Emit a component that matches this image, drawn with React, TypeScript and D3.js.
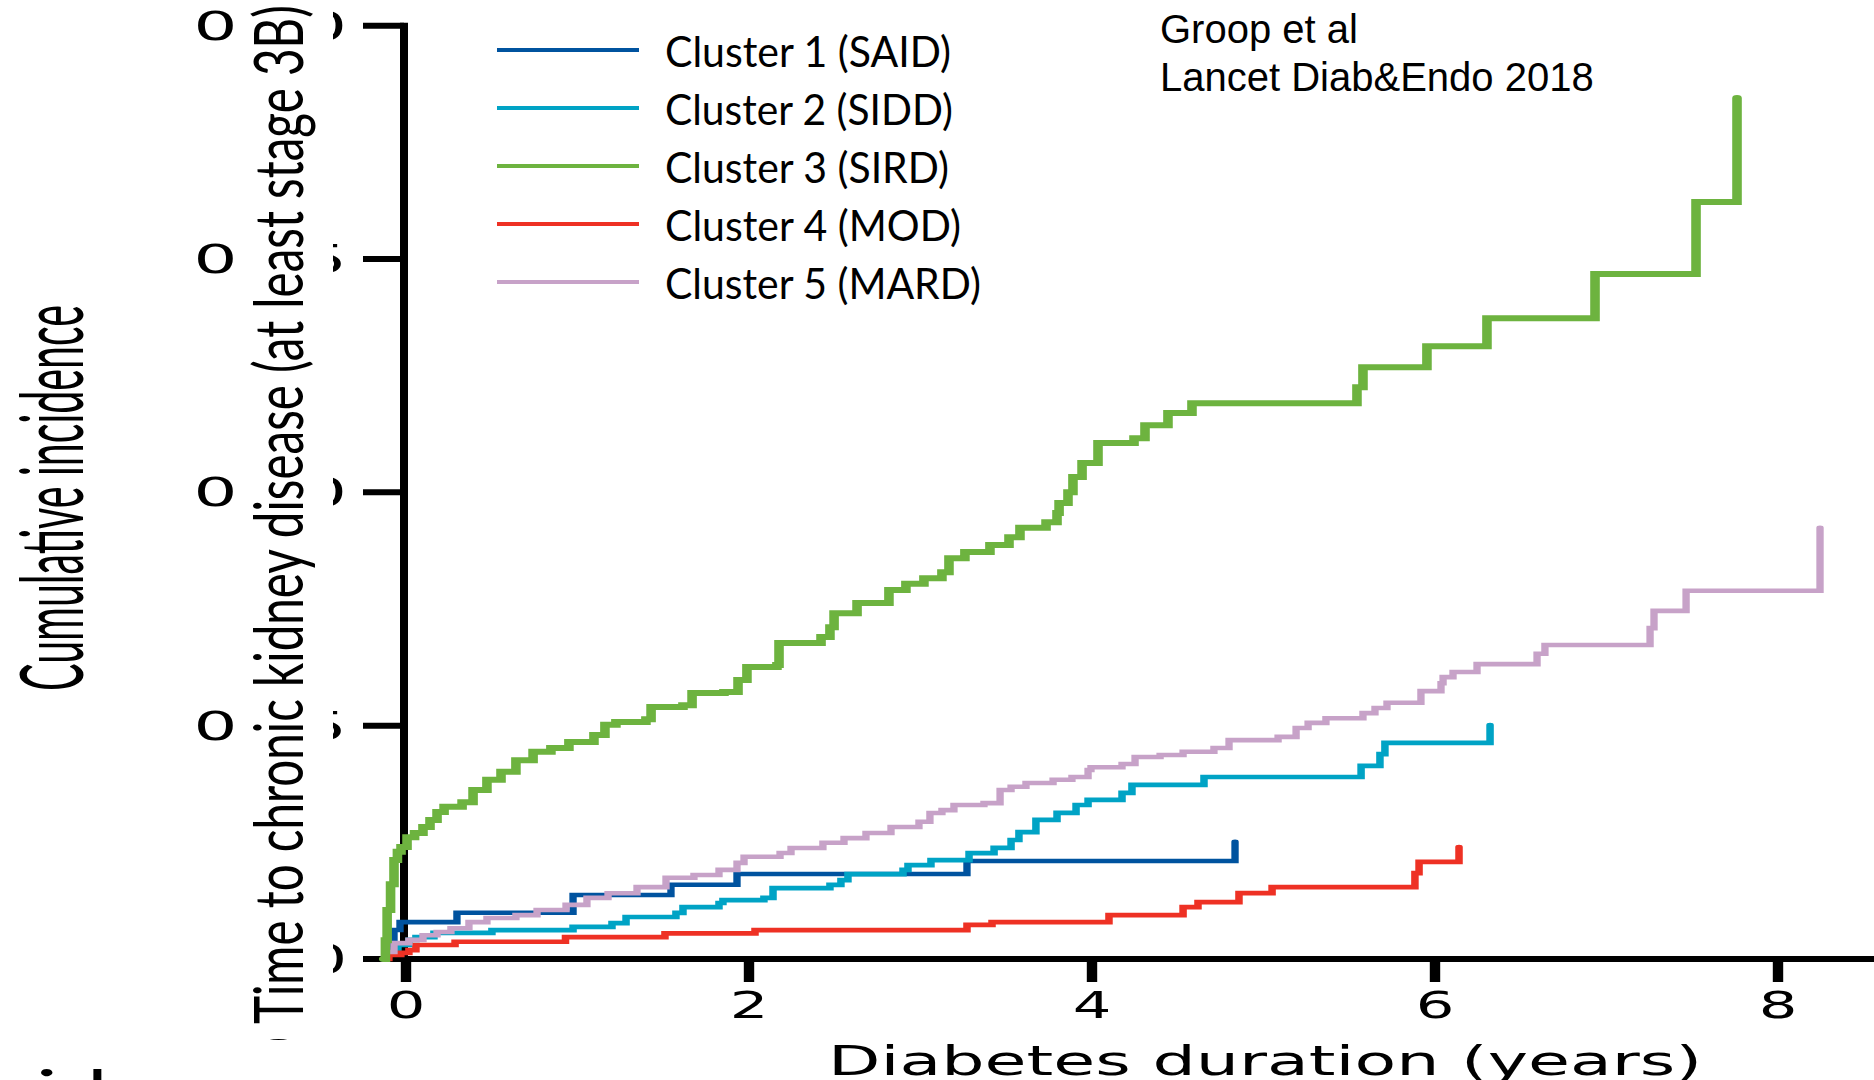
import React from "react";
import * as d3 from "d3";

// ---- data: cumulative incidence of CKD (stage 3B or worse) by diabetes duration ----
const clusterNames = [
  "Cluster 1 (SAID)",
  "Cluster 2 (SIDD)",
  "Cluster 3 (SIRD)",
  "Cluster 4 (MOD)",
  "Cluster 5 (MARD)",
];
const clusterColors = ["#00539F", "#00A3C5", "#6DB33F", "#EE3124", "#C7A2C8"];

// step-change times (years) and cumulative incidence after each step
const saidTime = [-0.13, -0.11, -0.07, -0.035, 0.297, 0.974, 1.545, 1.93, 3.271, 4.834];
const saidCum = [0, 0.003, 0.0062, 0.0079, 0.0099, 0.0137, 0.0159, 0.0182, 0.021, 0.0251];

const siddTime = [
  -0.13, -0.12, -0.047, 0.017, 0.058, 0.163, 0.501, 0.974, 1.201, 1.283, 1.574, 1.615, 1.825,
  1.848, 2.087, 2.14, 2.472, 2.536, 2.577, 2.898, 2.927, 3.061, 3.283, 3.429, 3.528, 3.574,
  3.673, 3.796, 3.907, 3.977, 4.175, 4.233, 4.653, 5.569, 5.679, 5.708, 6.321,
];
const siddCum = [
  0, 0.0015, 0.003, 0.0041, 0.0047, 0.0056, 0.0062, 0.0069, 0.0077, 0.009, 0.0099, 0.0111,
  0.012, 0.0126, 0.0131, 0.0152, 0.0159, 0.0169, 0.0182, 0.0191, 0.0201, 0.0212, 0.0227,
  0.0238, 0.0255, 0.0272, 0.0298, 0.0313, 0.033, 0.0341, 0.0356, 0.0373, 0.039, 0.0414,
  0.0439, 0.0463, 0.0501,
];

const sirdTime = [
  -0.13, -0.12, -0.11, -0.09, -0.07, -0.05, -0.029, 0.006, 0.05, 0.099, 0.14, 0.181, 0.222,
  0.327, 0.391, 0.472, 0.554, 0.641, 0.741, 0.845, 0.95, 1.096, 1.16, 1.224, 1.399, 1.429,
  1.615, 1.668, 1.854, 1.936, 1.988, 2.163, 2.175, 2.42, 2.472, 2.496, 2.63, 2.816, 2.915,
  3.02, 3.125, 3.166, 3.259, 3.405, 3.516, 3.58, 3.732, 3.796, 3.808, 3.86, 3.889, 3.942,
  4.035, 4.245, 4.309, 4.443, 4.583, 5.545, 5.58, 5.953, 6.303, 6.933, 7.522, 7.761,
];
const sirdCum = [
  0, 0.004, 0.0105, 0.016, 0.0212, 0.023, 0.024, 0.0261, 0.027, 0.0283, 0.0298, 0.0315,
  0.0326, 0.0336, 0.0362, 0.0384, 0.0401, 0.0426, 0.0444, 0.0452, 0.0465, 0.048, 0.0502,
  0.0508, 0.0514, 0.054, 0.0544, 0.057, 0.0572, 0.0598, 0.0626, 0.063, 0.0677, 0.069,
  0.0711, 0.0741, 0.0763, 0.0791, 0.0804, 0.0816, 0.0829, 0.0859, 0.0872, 0.0887, 0.0904,
  0.0924, 0.0936, 0.0956, 0.0977, 0.1, 0.1033, 0.1063, 0.1106, 0.1116, 0.1144, 0.117,
  0.1191, 0.1225, 0.1268, 0.1313, 0.1373, 0.1468, 0.1622, 0.1845,
];

const modTime = [
  -0.13, -0.1, -0.03, 0.017, 0.058, 0.286, 0.93, 1.51, 2.035, 3.271, 3.417, 4.099, 4.531,
  4.618, 4.857, 5.05, 5.883, 5.907, 6.14,
];
const modCum = [
  0, 0.0009, 0.0013, 0.0019, 0.003, 0.0037, 0.0047, 0.0055, 0.0062, 0.0073, 0.0079, 0.0094,
  0.0111, 0.0122, 0.0141, 0.0154, 0.0184, 0.0208, 0.024,
];

const mardTime = [
  -0.13, -0.122, -0.07, 0.017, 0.099, 0.181, 0.262, 0.367, 0.472, 0.641, 0.764, 0.933, 1.055,
  1.178, 1.347, 1.516, 1.679, 1.825, 1.93, 1.971, 2.181, 2.245, 2.431, 2.554, 2.682, 2.828,
  2.991, 3.055, 3.125, 3.195, 3.37, 3.464, 3.528, 3.615, 3.773, 3.883, 3.977, 3.994, 4.175,
  4.251, 4.397, 4.531, 4.711, 4.799, 5.085, 5.19, 5.26, 5.364, 5.58, 5.65, 5.72, 5.918,
  6.035, 6.047, 6.105, 6.245, 6.595, 6.641, 7.254, 7.277, 7.464, 8.245,
];
const mardCum = [
  0, 0.0015, 0.0034, 0.0041, 0.0051, 0.0058, 0.0066, 0.0079, 0.0088, 0.0094, 0.0105, 0.0116,
  0.0131, 0.0141, 0.0154, 0.0174, 0.018, 0.0191, 0.0206, 0.0219, 0.0227, 0.0238, 0.0249,
  0.0259, 0.027, 0.0283, 0.0294, 0.0313, 0.0319, 0.033, 0.0334, 0.0362, 0.0369, 0.0377,
  0.0384, 0.039, 0.0405, 0.0411, 0.0418, 0.0433, 0.0437, 0.0444, 0.0452, 0.0469, 0.0476,
  0.0495, 0.0506, 0.0516, 0.0527, 0.0538, 0.0549, 0.0574, 0.0591, 0.0604, 0.0615, 0.0632,
  0.0654, 0.0673, 0.0709, 0.0746, 0.0789, 0.0924,
];

const xTicks = [0, 2, 4, 6, 8];
const yTicks = [0, 0.05, 0.1, 0.15, 0.2];
const yTickLabels = ["0", "0·05", "0·10", "0·15", "0·20"];

// ---- layout ----
const W = 1874;
const H = 1080;
const SX = 1.6; // horizontal stretch of the plot artwork
const X0 = 406; // screen x of year 0
const PX_PER_YEAR = 171.5;

const xScale = d3.scaleLinear().domain([0, 8]).range([0, (8 * PX_PER_YEAR) / SX]);
const yScale = d3.scaleLinear().domain([0, 0.2]).range([959, 25.7]);
const gx = (sx: number) => (sx - X0) / SX; // screen x -> stretched-group x
const screenX = (t: number) => X0 + SX * xScale(t);

const series = [
  { time: saidTime, cum: saidCum, width: 4.6 },
  { time: siddTime, cum: siddCum, width: 4.7 },
  { time: sirdTime, cum: sirdCum, width: 6 },
  { time: modTime, cum: modCum, width: 4.7 },
  { time: mardTime, cum: mardCum, width: 4.6 },
].map((s, i) => ({
  ...s,
  name: clusterNames[i],
  color: clusterColors[i],
  points: d3.zip(s.time, s.cum) as [number, number][],
}));

const drawOrder = [0, 1, 3, 4, 2];

const stepLine = d3
  .line<[number, number]>()
  .x((d) => xScale(d[0]))
  .y((d) => yScale(d[1]))
  .curve(d3.curveStepAfter);

const legendTextLength = [286, 288, 284, 296, 316];

export default function App() {
  const axisTop = yScale(0.2) - 3;
  const axisY = yScale(0);
  return (
    <svg
      width={W}
      height={H}
      viewBox={`0 0 ${W} ${H}`}
      style={{ position: "fixed", left: 0, top: 0, background: "#fff" }}
    >
      <rect x={0} y={0} width={W} height={H} fill="#fff" />

      {/* y tick labels */}
      {yTicks.map((v, i) => (
        <text
          key={"yl" + i}
          transform={`translate(347, ${yScale(v) + 14}) scale(${SX},1)`}
          textAnchor="end"
          fontFamily="DejaVu Sans"
          fontSize={39}
          fill="#000"
          textLength={yTickLabels[i].length > 1 ? 96 : 25}
          lengthAdjust="spacingAndGlyphs"
        >
          {yTickLabels[i]}
        </text>
      ))}

      {/* stretched plot artwork */}
      <g transform={`translate(${X0},0) scale(${SX},1)`}>
        {/* x axis */}
        <line x1={gx(363)} x2={gx(W) + 2} y1={axisY} y2={axisY} stroke="#000" strokeWidth={6} />
        {xTicks.map((t) => (
          <line
            key={"xt" + t}
            x1={xScale(t)}
            x2={xScale(t)}
            y1={axisY}
            y2={axisY + 23}
            stroke="#000"
            strokeWidth={6.5}
          />
        ))}
        {/* y axis */}
        <line x1={gx(404)} x2={gx(404)} y1={axisTop} y2={axisY + 3} stroke="#000" strokeWidth={5} />
        {yTicks.map((v) => (
          <line
            key={"yt" + v}
            x1={gx(363)}
            x2={gx(404)}
            y1={yScale(v)}
            y2={yScale(v)}
            stroke="#000"
            strokeWidth={6}
          />
        ))}
        {/* cumulative incidence curves */}
        {drawOrder.map((i) => {
          const s = series[i];
          return (
            <path
              key={s.name}
              d={stepLine(s.points) || ""}
              fill="none"
              stroke={s.color}
              strokeWidth={s.width}
              strokeLinecap="round"
              strokeLinejoin="miter"
            />
          );
        })}
      </g>

      {/* x tick labels */}
      {xTicks.map((t) => (
        <text
          key={"xl" + t}
          transform={`translate(${screenX(t)}, 1018) scale(${SX},1)`}
          textAnchor="middle"
          fontFamily="DejaVu Sans"
          fontSize={38}
          fill="#000"
        >
          {t}
        </text>
      ))}

      {/* x axis title */}
      <text
        transform={`translate(828, 1075) scale(${SX},1)`}
        fontFamily="DejaVu Sans"
        fontSize={41}
        fill="#000"
        textLength={874 / SX}
        lengthAdjust="spacingAndGlyphs"
      >
        Diabetes duration (years)
      </text>

      {/* panel title box */}
      <defs>
        <clipPath id="titleClip">
          <rect x={240} y={0} width={93} height={1040} />
        </clipPath>
      </defs>
      <rect x={240} y={0} width={93} height={1040} fill="#fff" />
      <g clipPath="url(#titleClip)">
        <text
          transform={`translate(303, 1024) scale(${SX},1) rotate(-90)`}
          fontFamily="Lato"
          fontSize={42}
          fill="#000"
          textLength={1019}
          lengthAdjust="spacingAndGlyphs"
        >
          Time to chronic kidney disease (at least stage 3B)
        </text>
        <text
          transform={`translate(303, 1037) scale(${SX},1) rotate(-90)`}
          textAnchor="end"
          fontFamily="Lato"
          fontSize={42}
          fill="#000"
        >
          D
        </text>
      </g>

      {/* y axis title */}
      <text
        transform={`translate(83, 498) scale(${SX},1) rotate(-90)`}
        textAnchor="middle"
        fontFamily="Lato"
        fontSize={54}
        fill="#000"
        textLength={386}
        lengthAdjust="spacingAndGlyphs"
      >
        Cumulative incidence
      </text>

      <text transform={`translate(36, 1110) scale(${SX},1)`} fontFamily="Lato" fontSize={56} fill="#000">
        id
      </text>

      {/* legend */}
      {series.map((s, i) => {
        const y = 50 + 58 * i;
        return (
          <g key={"lg" + i}>
            <line x1={497} x2={639} y1={y} y2={y} stroke={s.color} strokeWidth={4} />
            <text
              x={665}
              y={y + 17}
              fontFamily="Lato"
              fontSize={43}
              fill="#000"
              textLength={legendTextLength[i]}
              lengthAdjust="spacingAndGlyphs"
            >
              {s.name}
            </text>
          </g>
        );
      })}

      {/* source note */}
      <text x={1160} y={43} fontFamily="Liberation Sans" fontSize={40} fill="#000">
        Groop et al
      </text>
      <text x={1160} y={91} fontFamily="Liberation Sans" fontSize={40} fill="#000">
        Lancet Diab&amp;Endo 2018
      </text>
    </svg>
  );
}
